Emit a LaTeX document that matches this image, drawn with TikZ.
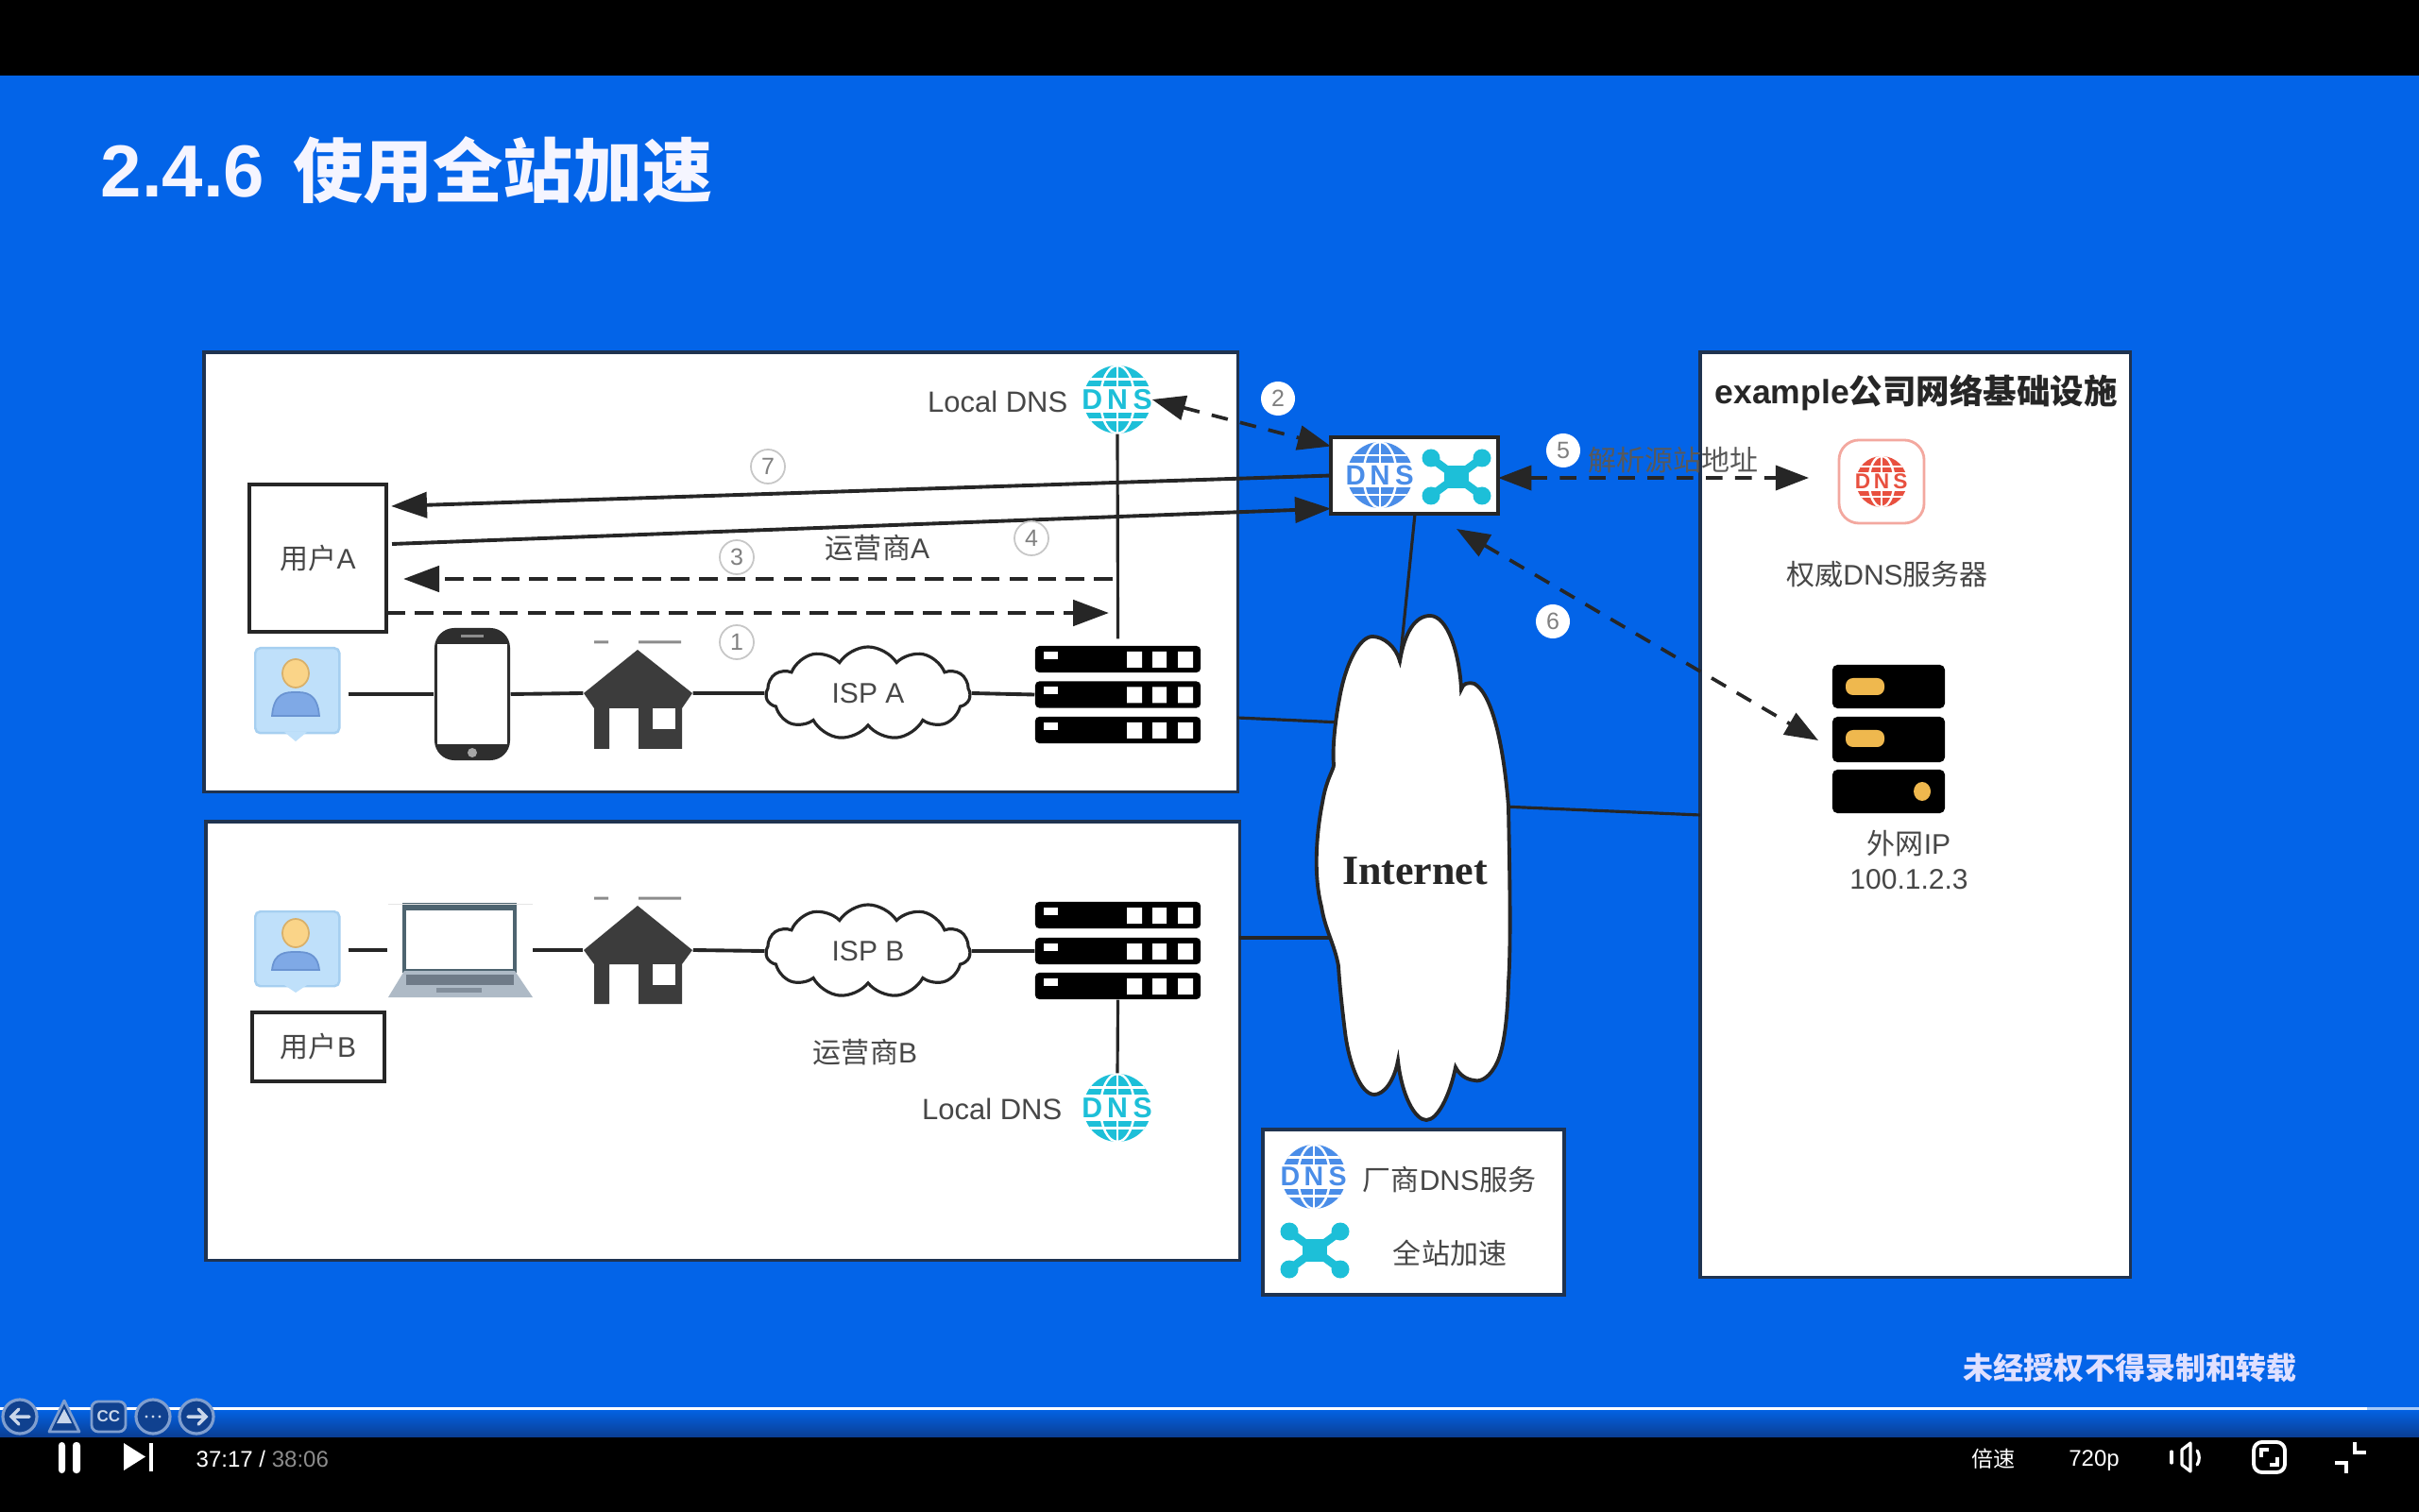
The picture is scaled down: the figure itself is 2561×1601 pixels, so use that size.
\documentclass[tikz,border=0pt]{standalone}
\usepackage{fontspec}
\setmainfont{Liberation Sans}
\newfontfamily\cjk{Noto Sans CJK SC}
\newfontfamily\serifb{Liberation Serif}
\usetikzlibrary{arrows.meta,shapes.symbols,calc}
\definecolor{slide}{HTML}{0364E8}
\definecolor{slidedark}{HTML}{0A3F95}
\definecolor{txt}{HTML}{474747}
\definecolor{edge}{HTML}{1F3350}
\definecolor{ink}{HTML}{262626}
\definecolor{teal}{HTML}{1DBFD8}
\definecolor{globeblue}{HTML}{4A8DE8}
\definecolor{globered}{HTML}{E8503F}
\definecolor{housec}{HTML}{3C3C3C}
\definecolor{personbg}{HTML}{BFE0FA}
\definecolor{personedge}{HTML}{A6CFF0}
\definecolor{headc}{HTML}{FAD488}
\definecolor{headedge}{HTML}{D8B06A}
\definecolor{bodyc}{HTML}{7FA9E6}
\definecolor{bodyedge}{HTML}{6A94D2}
\definecolor{lapbase}{HTML}{AEBAC6}
\definecolor{lapedge}{HTML}{4E6470}
\definecolor{lapkey}{HTML}{6F7B88}
\definecolor{goldc}{HTML}{EFB84E}
\definecolor{ctlfill}{HTML}{10418F}
\definecolor{ctledge}{HTML}{7F9ECF}
\definecolor{ctlfg}{HTML}{C9D6EA}
\newcommand\pxf[1]{\pgfmathsetmacro\fsz{#1*0.2845}\fontsize{\fsz pt}{\fsz pt}\selectfont}
\newcommand\zh[1]{{\cjk #1}}
\tikzset{
  panel/.style={draw=edge,line width=1pt,fill=white,anchor=north west,inner sep=0,outer sep=0},
  lbl/.style={font=\pxf{30},text=txt,inner sep=0},
  userbox/.style={draw=ink,line width=1.3pt,fill=white,inner sep=0,outer sep=0,font=\pxf{30},text=txt},
  wire/.style={draw=ink,line width=1.1pt},
  thin wire/.style={draw=ink,line width=.9pt},
  solidarrow/.style={draw=ink,line width=1.1pt,-{Triangle[length=10.8pt,width=7.7pt]}},
  dashA/.style={draw=ink,line width=1.3pt,dash pattern=on 5.6pt off 2.9pt,-{Triangle[length=10.8pt,width=7.7pt]}},
  dashB/.style={draw=ink,line width=1.05pt,dash pattern=on 5pt off 3.8pt,{Triangle[length=10pt,width=7.4pt]}-{Triangle[length=10pt,width=7.4pt]}},
  numW/.style={circle,draw=black!22,fill=white,line width=.5pt,minimum size=.36cm,inner sep=0,font=\pxf{25},text=black!50},
  numB/.style={circle,fill=white,minimum size=.36cm,inner sep=0,font=\pxf{25},text=black!50},
  ispcloud/.style={cloud,cloud puffs=11,cloud puff arc=115,aspect=2.2,draw=ink,line width=.9pt,fill=white,minimum width=2.16cm,minimum height=.98cm,inner sep=0,font=\pxf{30},text=txt},
  rackrow/.style={fill=black,rounded corners=1.2pt,minimum width=1.75cm,minimum height=.28cm,inner sep=0},
  invis/.style={inner sep=0,minimum height=.01cm},
  uictl/.style={circle,draw=ctledge,fill=ctlfill,line width=.9pt,minimum size=.36cm,inner sep=0},
  ctltxt/.style={inner sep=0,font=\pxf{24},text=white},
}
% DNS globe icon
\newcommand\dnsglobe[5]{%
  \pgfmathsetmacro\rr{#4}%
  \pgfmathsetmacro\bw{#4*0.74*0.01}%
  \node[circle,minimum size=#4*0.02cm,inner sep=0] (#1) at (#2,#3) {};
  \begin{scope}[shift={(#2,#3)}]
    \begin{scope}
      \clip (0,0) circle (\rr);
      \fill[#5] (-\rr,-\rr) rectangle (\rr,\rr);
      \draw[white,line width=.7pt] (0,0) ellipse ({.5*\rr} and {\rr});
      \draw[white,line width=.7pt] (0,-\rr) -- (0,\rr);
      \draw[white,line width=.7pt] (-\rr,{-.6*\rr}) -- (\rr,{-.6*\rr});
      \draw[white,line width=.7pt] (-\rr,{.6*\rr}) -- (\rr,{.6*\rr});
    \end{scope}
    \fill[white] ({-1.06*\rr},{-.38*\rr}) rectangle ({1.06*\rr},{.38*\rr});
    \node[inner sep=0,text=#5,font=\pxf{#4*0.84}\bfseries] (#1txt) at (0,0) {\makebox[\bw cm]{D}\makebox[\bw cm]{N}\makebox[\bw cm]{S}};
  \end{scope}}
% acceleration icon
\newcommand\accel[3]{%
  \node[inner sep=0,minimum width=.72cm,minimum height=.56cm] (#1) at (#2,#3) {};
  \begin{scope}[shift={(#2,#3)}]
    \draw[teal,line width=2.4pt] (-27,-20) -- (27,20) (-27,20) -- (27,-20);
    \fill[teal] (-13,-12) rectangle (13,12);
    \foreach \a/\b in {-27/-20,27/-20,-27/20,27/20}{\fill[teal] (\a,\b) circle (9.5);}
  \end{scope}}
% person icon
\newcommand\personicon[7]{%
  \node[fill=personbg,draw=personedge,line width=.7pt,rounded corners=1.5pt,inner sep=0,anchor=north west,minimum width=.89cm,minimum height={(#3-#2)*0.01cm}] (#1) at (269,#2) {};
  \fill[personbg] (301,#3) -- (313,#4) -- (325,#3) -- cycle;
  \fill[headc,draw=headedge,line width=.5pt] (313,#5) ellipse (14 and 15);
  \fill[bodyc,draw=bodyedge,line width=.5pt] (288,#7) .. controls (290,#6) and (303,#6) .. (313,#6) .. controls (323,#6) and (336,#6) .. (338,#7) -- cycle;}
% house
\newcommand\housepic[8]{% name eave apex bottom doortop winbot dashy
  \node[invis,minimum width=1.15cm] (#1) at (675.5,#2) {};
  \fill[housec] (618,#2) -- (675,#3) -- (733,#2) -- (722,#5) -- (722,#4) -- (676,#4) -- (676,#5) -- (645,#5) -- (645,#4) -- (629,#4) -- (629,#5) -- cycle;
  \fill[white] (691,#5) rectangle (715,#6);
  \fill[black!45] (629,{#7-1.5}) rectangle (644,{#7+1.5}) (676,{#7-1.5}) rectangle (721,{#7+1.5});}
% server rack
\newcommand\rackrow[2]{%
  \node[rackrow] (#1) at (1183.5,#2) {};
  \fill[white] (1105,{#2-8}) rectangle (1120,{#2});
  \fill[white] (1193,{#2-8}) rectangle (1209,{#2+9}) (1220,{#2-8}) rectangle (1235,{#2+9}) (1247,{#2-8}) rectangle (1263,{#2+9});}
\begin{document}
\begin{tikzpicture}[x=0.01cm,y=-0.01cm]
\useasboundingbox (0,0) rectangle (2561,1601);
\fill[black] (0,0) rectangle (2561,1601);
\fill[slide] (0,80) rectangle (2561,1491);
\shade[top color=slide,bottom color=slidedark] (0,1491) rectangle (2561,1521);
% title
\node[inner sep=0,anchor=west,text=white!96!blue,font=\pxf{78}\bfseries] (title) at (106,180) {2.4.6\hspace{.30cm}{\pxf{74}\zh{使用全站加速}}};
% panels
\node[panel,minimum width=10.94cm,minimum height=4.65cm] (boxA) at (216,373) {};
\node[panel,minimum width=10.94cm,minimum height=4.64cm] (boxB) at (218,870) {};
\node[panel,minimum width=4.55cm,minimum height=9.79cm] (infra) at (1800,373) {};
% Internet connections and cloud
\coordinate (cloudA) at (1420,765);
\coordinate (cloudB) at (1410,993);
\coordinate (cloudR) at (1590,854);
\coordinate (cloudT) at (1482,702);
\coordinate (infraL) at (1800,863);
\coordinate (aOut) at (1310,760);
\coordinate (bOut) at (1312,993);
\draw[thin wire] (aOut) -- (cloudA);
\draw[thin wire] (bOut) -- (cloudB);
\draw[thin wire] (cloudR) -- (infraL);
% top row A
\personicon{personA}{685}{775}{785}{713}{733}{758}
\node[fill=black!82,rounded corners=6pt,minimum width=.8cm,minimum height=1.4cm,inner sep=0] (phoneA) at (500,735) {};
\fill[white] (463,682) rectangle (537,788);
\fill[black!45] (488,672) rectangle (512,675);
\fill[black!35] (500,797) circle (5);
\housepic{houseA}{734}{688}{793}{750}{772}{680}{}
\node[ispcloud] (ispA) at (919,734) {ISP A};
\rackrow{srvA1}{698}
\rackrow{srvA2}{735.5}
\rackrow{srvA3}{773}
\draw[wire,shorten <=.08cm] (personA.east |- phoneA.west) -- (phoneA.west);
\draw[wire] (phoneA.east) -- (houseA.west);
\draw[wire] (houseA.east) -- (ispA.west);
\draw[wire] (ispA.east) -- (srvA2.west);
% top row B
\personicon{personB}{964}{1043}{1051}{988}{1008}{1027}
\node[draw=lapedge,line width=1pt,fill=white,minimum width=1.17cm,minimum height=.70cm,inner sep=0] (laptop) at (486.5,993) {};
\fill[lapedge] (428,958) rectangle (545,964);
\fill[black!10] (411,956.5) rectangle (564,958);
\fill[lapbase] (428,1028) -- (545,1028) -- (564,1056) -- (411,1056) -- cycle;
\fill[lapkey] (430,1032) rectangle (544,1043);
\fill[lapkey!70!lapbase] (462,1046) rectangle (510,1051);
\housepic{houseB}{1006}{959}{1063}{1021}{1043}{951}{}
\node[ispcloud] (ispB) at (919,1007) {ISP B};
\rackrow{srvB1}{969}
\rackrow{srvB2}{1007}
\rackrow{srvB3}{1044}
\draw[wire,shorten <=.08cm] (personB.east |- laptop.west) ++(0,13) -- +(49,0);
\coordinate (lapR) at (564,1006);
\draw[wire] (lapR) -- (houseB.west);
\draw[wire] (houseB.east) -- (ispB.west);
\draw[wire] (ispB.east) -- (srvB2.west);
% DNS
\dnsglobe{dnsA}{1183}{423}{36}{teal}
\dnsglobe{dnsB}{1183}{1173}{36}{teal}
\draw[thin wire] (dnsA.south) -- ([yshift=.07cm]srvA1.north);
\draw[thin wire] (srvB3.south) -- (dnsB.north);
\node[lbl,anchor=east,font=\pxf{31}] (ldnsA) at (1131,425) {Local DNS};
\node[lbl,anchor=east,font=\pxf{31}] (ldnsB) at (1125,1174) {Local DNS};
% user boxes
\node[userbox,minimum width=1.45cm,minimum height=1.56cm] (userA) at (336.5,591) {\raisebox{-.07cm}{\zh{用户}A}};
\node[userbox,minimum width=1.40cm,minimum height=.73cm] (userB) at (337,1108.5) {\raisebox{-.06cm}{\zh{用户}B}};
\node[lbl] (opA) at (929,580) {\zh{运营商}A};
\node[lbl] (opB) at (916,1114) {\zh{运营商}B};
% Internet cloud
\filldraw[fill=white,draw=ink,line width=1.1pt] (1482,700)
 .. controls (1487,670) and (1498,652) .. (1514,652)
 .. controls (1532,652) and (1545,690) .. (1547,730)
 .. controls (1549,724) and (1553,722) .. (1561,724)
 .. controls (1580,735) and (1592,790) .. (1597,854)
 .. controls (1598,910) and (1600,1000) .. (1597,1040)
 .. controls (1596,1080) and (1592,1110) .. (1585,1125)
 .. controls (1578,1140) and (1568,1146) .. (1561,1144)
 .. controls (1552,1143) and (1545,1138) .. (1541,1130)
 .. controls (1535,1160) and (1522,1186) .. (1510,1186)
 .. controls (1498,1186) and (1484,1160) .. (1480,1123)
 .. controls (1476,1145) and (1465,1159) .. (1455,1159)
 .. controls (1440,1159) and (1428,1125) .. (1424,1093)
 .. controls (1420,1060) and (1418,1040) .. (1417,1023)
 .. controls (1413,1000) and (1403,985) .. (1399,960)
 .. controls (1390,925) and (1394,880) .. (1400,850)
 .. controls (1404,825) and (1412,815) .. (1412,810)
 .. controls (1410,790) and (1415,755) .. (1418,740)
 .. controls (1425,700) and (1440,674) .. (1453,674)
 .. controls (1465,674) and (1478,685) .. (1482,700) -- cycle;
\node[inner sep=0,text=ink,font=\pxf{44}\serifb\bfseries] (inet) at (1498,922) {Internet};
% CDN box
\node[panel,draw=ink,line width=1.2pt,minimum width=1.77cm,minimum height=.81cm] (cdn) at (1409,463) {};
\dnsglobe{cdnDns}{1461}{503}{35}{globeblue}
\accel{cdnX}{1542}{505}
\coordinate (cdnS) at (1498,544);
\draw[thin wire] (cdnS) -- (cloudT);
% arrows
\draw[solidarrow] (cdn.west) -- ([shift={(5,-55)}]userA.east);
\draw[solidarrow] ([shift={(6,-15)}]userA.east) -- ([yshift=-.35cm]cdn.west);
\coordinate (lineD) at (1178,613);
\draw[dashA] (lineD) -- ([shift={(18,22)}]userA.east);
\draw[dashA] ([yshift=-.58cm]userA.east) -- ([yshift=-.58cm,xshift=-.04cm]userA.east -| lineD);
\draw[dashB] (dnsA.east) -- ([yshift=.31cm]cdn.west);
\coordinate (fiveEnd) at (1915,506);
\draw[dashB] ([yshift=-.025cm]cdn.east) -- (fiveEnd);
\coordinate (sixA) at (1542,560);
\coordinate (sixB) at (1925,784);
\draw[dashB] (sixA) -- (sixB);
% numbers
\node[numW] (n7) at (813,494) {7};
\node[numW] (n3) at (780,590) {3};
\node[numW] (n4) at (1092,570) {4};
\node[numW] (n1) at (780,680) {1};
\node[numB] (n2) at (1353,422) {2};
\node[numB] (n5) at (1655,477) {5};
\node[numB] (n6) at (1644,658) {6};
\node[lbl,anchor=west,text=black!65] (parse) at (1681,487) {\zh{解析源站地址}};
% infra content
\node[inner sep=0,anchor=west,text=ink,font=\pxf{35.5}\bfseries] (infraT) at (1815,416) {example\zh{公司网络基础设施}};
\node[draw=globered!50!white,line width=.8pt,rounded corners=6pt,fill=white,minimum width=.90cm,minimum height=.88cm,inner sep=0] (authIcon) at (1992,510) {};
\dnsglobe{authDns}{1992}{510}{27}{globered}
\node[lbl] (auth) at (1998,608) {\zh{权威}DNS\zh{服务器}};
\node[fill=black,rounded corners=1.5pt,minimum width=1.19cm,minimum height=.46cm,inner sep=0] (ext1) at (1999.5,727) {};
\node[fill=black,rounded corners=1.5pt,minimum width=1.19cm,minimum height=.48cm,inner sep=0] (ext2) at (1999.5,783) {};
\node[fill=black,rounded corners=1.5pt,minimum width=1.19cm,minimum height=.46cm,inner sep=0] (ext3) at (1999.5,838) {};
\fill[goldc,rounded corners=2.2pt] (1954,718) rectangle (1995,736);
\fill[goldc,rounded corners=2.2pt] (1954,773) rectangle (1995,791);
\fill[goldc] (2035,838) ellipse (9 and 10);
\node[lbl] (extA) at (2021,893) {\zh{外网}IP};
\node[lbl] (extB) at (2021,931) {100.1.2.3};
% legend
\node[panel,minimum width=3.19cm,minimum height=1.75cm] (legend) at (1337,1196) {};
\dnsglobe{legDns}{1391}{1246}{34}{globeblue}
\accel{legX}{1392}{1324}
\node[lbl,anchor=west] (legA) at (1442,1249) {\zh{厂商}DNS\zh{服务}};
\node[lbl] (legB) at (1535,1327) {\zh{全站加速}};
% watermark
\node[inner sep=0,text=white!88!blue,font=\pxf{32}\bfseries] (wm) at (2255,1448) {\zh{未经授权不得录制和转载}};
% progress bar
\fill[white] (0,1489.5) rectangle (2506,1492.5);
\fill[white!65!slide] (2506,1489.5) rectangle (2561,1492.5);
% overlay icons
\foreach \n/\cx in {i1/21,i3/162,i4/208}{\node[uictl] (\n) at (\cx,1500) {};}
\draw[ctlfg,line width=1pt,line cap=round] (31,1500) -- (12,1500) (20,1492) -- (12,1500) -- (20,1508);
\draw[ctlfg,line width=1pt,line cap=round] (199,1500) -- (218,1500) (210,1492) -- (218,1500) -- (210,1508);
\fill[ctlfg] (155,1500) circle (1.6) (162,1500) circle (1.6) (169,1500) circle (1.6);
\filldraw[fill=ctlfill,draw=ctledge,line width=.8pt,line join=round] (68,1483) -- (84,1516) -- (52,1516) -- cycle;
\fill[ctlfg] (68,1492) -- (76,1507) -- (60,1507) -- cycle;
\node[rounded corners=2pt,fill=ctlfill,draw=ctledge,line width=.8pt,minimum width=.36cm,minimum height=.32cm,inner sep=0,text=ctlfg,font=\pxf{17}\bfseries] (ccb) at (115,1500) {CC};
% player controls
\fill[white,rounded corners=1pt] (62,1527) rectangle (69,1560);
\fill[white,rounded corners=1pt] (77,1527) rectangle (85,1560);
\fill[white] (131,1528) -- (154,1542.5) -- (131,1557) -- cycle;
\fill[white] (158,1528) rectangle (162,1558);
\node[ctltxt,anchor=west] (time) at (207,1545) {37:17 / \textcolor{black!45!white}{38:06}};
\node[ctltxt,font=\pxf{23}] (speed) at (2110,1545) {\zh{倍速}};
\node[ctltxt,font=\pxf{24}] (res) at (2217,1547) {720p};
\draw[white,line width=.9pt,line join=round] (2310,1535) -- (2319,1528) -- (2319,1558) -- (2310,1551) -- cycle;
\draw[white,line width=.9pt,line cap=round] (2299,1537) -- (2299,1549);
\draw[white,line width=.9pt,line cap=round] (2326,1536) .. controls (2329,1540) and (2329,1547) .. (2326,1551);
\node[draw=white,line width=1.1pt,rounded corners=2.5pt,minimum width=.33cm,minimum height=.32cm,inner sep=0] (fitb) at (2402.5,1543) {};
\draw[white,line width=1pt] (2394,1543) -- (2394,1535) -- (2402,1535);
\draw[white,line width=1pt] (2411,1543) -- (2411,1551) -- (2403,1551);
\draw[white,line width=1.1pt] (2493,1527) -- (2493,1538) -- (2505,1538);
\draw[white,line width=1.1pt] (2472,1549) -- (2484,1549) -- (2484,1560);
\end{tikzpicture}
\end{document}
